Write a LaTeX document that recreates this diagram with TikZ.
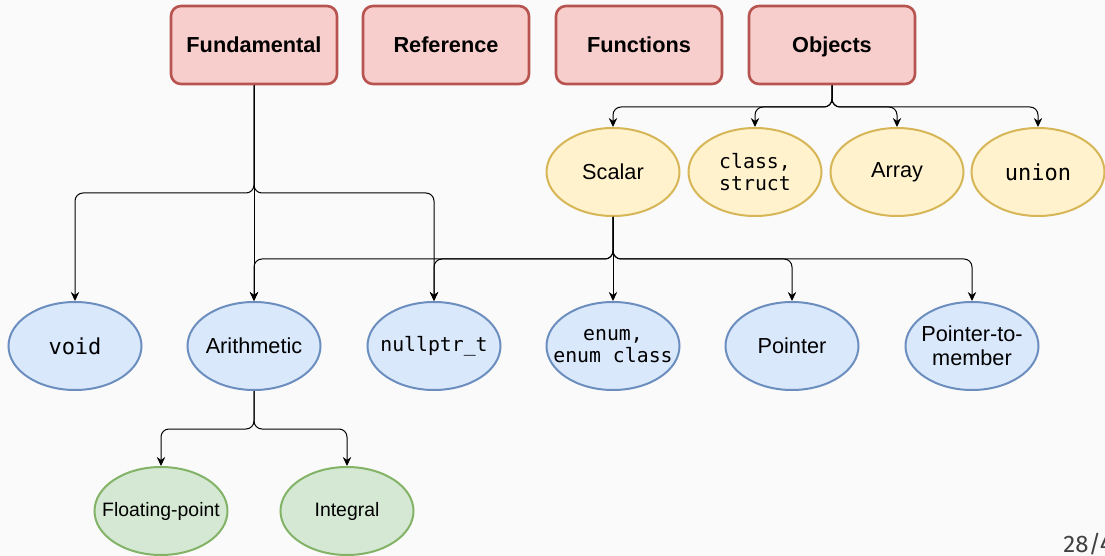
\documentclass[tikz,border=0pt]{standalone}
\usepackage{fontspec}
\setmainfont{Liberation Sans}
\newfontfamily\codefont{DejaVu Sans Mono}
\newfontfamily\pagefont{Fira Sans}
\usepackage{xcolor}
\usepackage{tikz}
\usetikzlibrary{arrows.meta,shapes.geometric,calc}

\definecolor{redfill}{HTML}{F8CECC} \definecolor{redline}{HTML}{B85450}
\definecolor{yelfill}{HTML}{FFF2CC} \definecolor{yelline}{HTML}{D6B656}
\definecolor{blufill}{HTML}{DAE8FC} \definecolor{bluline}{HTML}{6C8EBF}
\definecolor{grnfill}{HTML}{D5E8D4} \definecolor{grnline}{HTML}{82B366}
\definecolor{bgcol}{HTML}{FAFAFA}

\begin{document}
\begin{tikzpicture}[x=0.5pt,y=-0.5pt,
  kind/.style={draw=redline,fill=redfill,line width=1.3pt,rounded corners=5pt,
    minimum width=83pt,minimum height=39pt,text height=0.72em,text depth=0em,
    font=\bfseries\fontsize{10.85}{13}\selectfont},
  ell/.style={ellipse,line width=1pt,minimum width=66.5pt,minimum height=44pt,
    inner ysep=0pt,inner xsep=-6.5pt,align=center,font=\fontsize{10.85}{12}\selectfont},
  code/.style={font=\codefont\fontsize{9.9}{11.2}\selectfont},
  bigcode/.style={font=\codefont\fontsize{11}{13}\selectfont},
  yel/.style={ell,draw=yelline,fill=yelfill},
  blu/.style={ell,draw=bluline,fill=blufill},
  grn/.style={ell,draw=grnline,fill=grnfill,font=\fontsize{9.7}{11}\selectfont},
  conn/.style={-{Stealth[length=4.5pt,width=4.2pt]},line width=0.5pt,rounded corners=4pt}]
\fill[bgcol] (0,0) rectangle (1105,556);
\useasboundingbox (0,0) rectangle (1105,556);
% top row
\node[kind] (F)  at (254,45) {Fundamental};
\node[kind] (R)  at (446,45) {Reference};
\node[kind] (Fn) at (639,45) {Functions};
\node[kind] (O)  at (832,45) {Objects};
% object kinds
\node[yel] (Sc) at (613,172) {Scalar};
\node[yel,code] (Cl) at (755,172) {class,\\struct};
\node[yel] (Ar) at (897,172) {Array};
\node[yel,bigcode] (Un) at (1038,172) {union};
% fundamental and scalar kinds
\node[blu,bigcode] (V)  at (75,346) {void};
\node[blu] (Am) at (254,346) {Arithmetic};
\node[blu,code] (Np) at (434,346) {nullptr\_t};
\node[blu,code] (En) at (613,346) {enum,\\enum class};
\node[blu] (P)  at (792,346) {Pointer};
\node[blu] (Pm) at (972,346) {Pointer-to-\\member};
% arithmetic kinds
\node[grn] (Fp) at (161,511) {Floating-point};
\node[grn] (I)  at (347,511) {Integral};
% branch heights
\coordinate (ob) at (0,107); \coordinate (fb) at (0,193);
\coordinate (sb) at (0,259); \coordinate (ab) at (0,429);
\foreach \t in {Sc,Cl,Ar,Un}
  \draw[conn] (O.south) -- (O.south |- ob) -| (\t.north);
\foreach \t in {V,Np}
  \draw[conn] (F.south) -- (F.south |- fb) -| (\t.north);
\draw[conn] (F.south) -- (Am.north);
\foreach \t in {Am,Np,P,Pm}
  \draw[conn] (Sc.south) -- (Sc.south |- sb) -| (\t.north);
\draw[conn] (Sc.south) -- (En.north);
\foreach \t in {Fp,I}
  \draw[conn] (Am.south) -- (Am.south |- ab) -| (\t.north);
%\draw[help lines] (0,0) grid[step=50] (1105,556);
\node[anchor=base west,inner sep=0pt,text=black!75,font=\pagefont\fontsize{12}{14}\selectfont] (pg) at (1063,552) {28/4};
\end{tikzpicture}
\end{document}
